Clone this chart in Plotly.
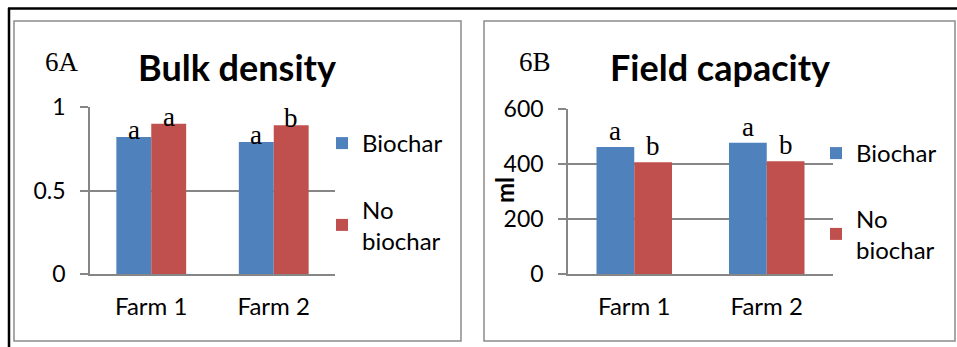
import plotly.graph_objects as go

# ---------------- data ----------------
farms = ["Farm 1", "Farm 2"]
series_names = ["Biochar", "No<br>biochar"]

bulk_biochar = [0.82, 0.79]
bulk_no_biochar = [0.90, 0.89]
bulk_letters_biochar = ["a", "a"]
bulk_letters_no_biochar = ["a", "b"]

fc_biochar = [462, 477]
fc_no_biochar = [406, 410]
fc_letters_biochar = ["a", "a"]
fc_letters_no_biochar = ["b", "b"]

bulk_ticks = [0, 0.5, 1]
fc_ticks = [0, 200, 400, 600]

# ---------------- style ----------------
W, H = 957, 347
BLUE = "#4F81BD"
RED = "#C0504D"
GRID = "#868686"
SANS = "Lato, 'Liberation Sans', Arial, sans-serif"
SERIF = "'Liberation Serif', 'Times New Roman', serif"
BARGAP = 0.43


def px(x):
    return x / W


def py(y):
    return 1 - y / H


fig = go.Figure()
letter_annots = []

panels = [
    ("x", "y", "legend", bulk_biochar, bulk_no_biochar, bulk_letters_biochar, bulk_letters_no_biochar, -10),
    ("x2", "y2", "legend2", fc_biochar, fc_no_biochar, fc_letters_biochar, fc_letters_no_biochar, -1),
]
for xa, ya, lg, vb, vn, lb, ln, yshift in panels:
    series = [(vb, lb, series_names[0], BLUE, "g1", -1), (vn, ln, series_names[1], RED, "g2", 1)]
    for vals, letters, name, col, grp, side in series:
        fig.add_trace(go.Bar(
            x=farms, y=vals, name=name, marker=dict(color=col, line=dict(width=0)),
            xaxis=xa, yaxis=ya, legend=lg, legendgroup=grp + xa,
        ))
        # significance letters placed over each bar (category index +/- quarter of group width)
        for i, (v, t) in enumerate(zip(vals, letters)):
            letter_annots.append(dict(
                text=t, x=i + side * (1 - BARGAP) / 4, y=v, xref=xa, yref=ya,
                xanchor="center", yanchor="bottom", yshift=yshift, showarrow=False,
                font=dict(family=SERIF, size=27, color="black"),
            ))

axis_common = dict(showline=True, linecolor=GRID, linewidth=1.5, color="black", automargin=False)
yaxis_common = dict(axis_common, showgrid=True, gridcolor=GRID, gridwidth=1.5, zeroline=False,
                    ticks="outside", ticklen=8, tickcolor=GRID, tickwidth=1.5,
                    tickfont=dict(family=SANS, size=23, color="black"), ticklabelstandoff=10)
xaxis_common = dict(axis_common, showgrid=False, ticks="", tickfont=dict(family=SANS, size=24, color="black"),
                    ticklabelstandoff=10)

fig.update_layout(
    template="none",
    width=W, height=H, margin=dict(l=0, r=0, t=0, b=0, pad=0, autoexpand=False),
    paper_bgcolor="white", plot_bgcolor="white",
    barmode="group", bargap=BARGAP, bargroupgap=0,
    showlegend=True,
    xaxis=dict(xaxis_common, domain=[px(90), px(335)], anchor="y"),
    yaxis=dict(yaxis_common, domain=[py(274), py(107)], anchor="x", range=[0, 1],
               tickvals=bulk_ticks, ticktext=[str(t) for t in bulk_ticks]),
    xaxis2=dict(xaxis_common, domain=[px(568), px(833)], anchor="y2"),
    yaxis2=dict(yaxis_common, domain=[py(274), py(109)], anchor="x2", range=[0, 600],
                tickvals=fc_ticks),
    legend=dict(x=px(322), y=py(121), xanchor="left", yanchor="top", bgcolor="rgba(0,0,0,0)",
                font=dict(family=SANS, size=24, color="black"), tracegroupgap=32,
                itemclick=False, itemdoubleclick=False),
    legend2=dict(x=px(816), y=py(131), xanchor="left", yanchor="top", bgcolor="rgba(0,0,0,0)",
                 font=dict(family=SANS, size=24, color="black"), tracegroupgap=31,
                 itemclick=False, itemdoubleclick=False),
)

# frames
shapes = [
    dict(type="line", xref="paper", yref="paper", x0=px(8), x1=px(957), y0=py(8.5), y1=py(8.5),
         line=dict(color="black", width=2.5)),
    dict(type="line", xref="paper", yref="paper", x0=px(9), x1=px(9), y0=py(8), y1=py(347),
         line=dict(color="black", width=2.5)),
    dict(type="rect", xref="paper", yref="paper", x0=px(14), x1=px(461), y0=py(21), y1=py(341),
         line=dict(color="#8c8c8c", width=1.5), layer="below"),
    dict(type="rect", xref="paper", yref="paper", x0=px(484), x1=px(955), y0=py(21), y1=py(341),
         line=dict(color="#8c8c8c", width=1.5), layer="below"),
]
fig.update_layout(shapes=shapes)

annotations = [
    dict(text="<b>Bulk density</b>", x=px(237), y=py(67), font=dict(family=SANS, size=36, color="black")),
    dict(text="<b>Field capacity</b>", x=px(720), y=py(67), font=dict(family=SANS, size=36, color="black")),
    dict(text="6A", x=px(62), y=py(62), font=dict(family=SERIF, size=27, color="black")),
    dict(text="6B", x=px(535), y=py(62), font=dict(family=SERIF, size=27, color="black")),
    dict(text="<b>ml</b>", x=px(505), y=py(190), textangle=-90, font=dict(family=SANS, size=24, color="black")),
]
for a in annotations:
    a.update(xref="paper", yref="paper", showarrow=False, xanchor="center", yanchor="middle")
fig.update_layout(annotations=annotations + letter_annots)

fig.write_html("out.html", config={"displayModeBar": False},
               post_script="document.body.style.margin='0px';document.body.style.padding='0px';")
